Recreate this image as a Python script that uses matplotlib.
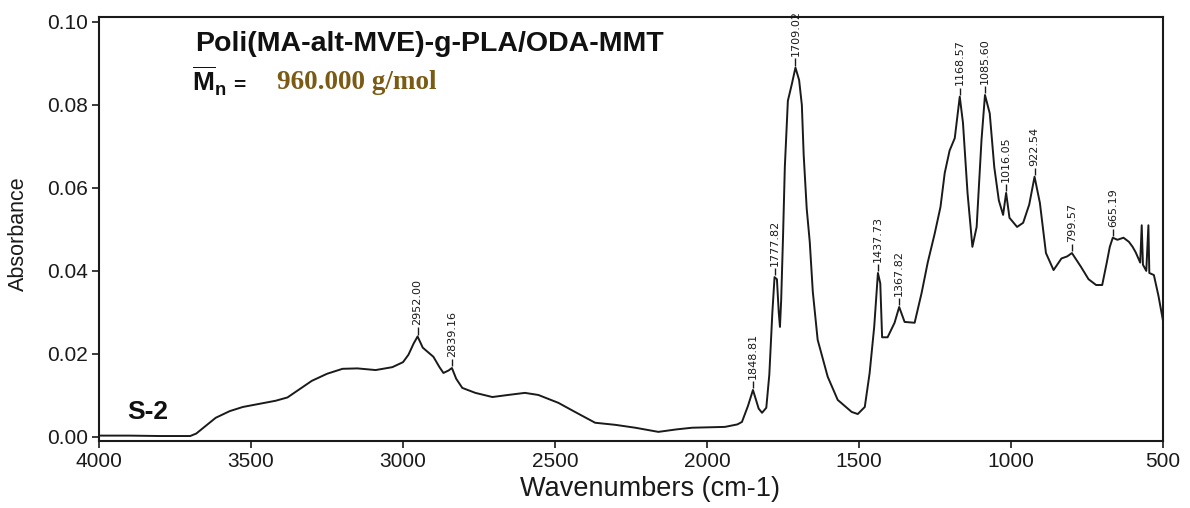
import numpy as np
import matplotlib
matplotlib.use("Agg")
import matplotlib.pyplot as plt

plt.rcParams["font.family"] = ["Liberation Sans", "DejaVu Sans"]
plt.rcParams["mathtext.fontset"] = "custom"
plt.rcParams["mathtext.bf"] = "Liberation Sans:bold"
plt.rcParams["mathtext.rm"] = "Liberation Sans"

# FTIR spectrum (wavenumber in cm-1, absorbance)
wavenumber = [4000, 3900, 3800, 3700, 3680, 3616, 3570, 3527, 3470, 3419,
              3380, 3340, 3300, 3250, 3199, 3150, 3090, 3035, 3000, 2982,
              2965, 2952, 2935, 2900, 2880, 2867, 2850, 2839.16, 2825, 2805,
              2762, 2706, 2654, 2599, 2555, 2489, 2434, 2368, 2302, 2236,
              2160, 2100, 2049, 1990, 1941, 1900, 1885, 1865, 1848.81, 1830,
              1819, 1805, 1795, 1785, 1777.82, 1770, 1764, 1760, 1756, 1750,
              1744, 1734, 1721, 1709.02, 1697, 1688, 1682, 1672, 1662, 1652,
              1636, 1603, 1570, 1524, 1504, 1481, 1465, 1450, 1437.73, 1430,
              1424, 1406, 1383, 1367.82, 1350, 1317, 1294, 1274, 1251, 1232,
              1218, 1202, 1185, 1168.57, 1158, 1143, 1127, 1113, 1097, 1085.60,
              1070, 1055, 1040, 1026, 1016.05, 1005, 980, 960, 940, 922.54,
              905, 885, 860, 834, 815, 799.57, 770, 745, 720, 700,
              685, 675, 665.19, 650, 630, 612, 600, 590, 575, 570,
              566, 555, 548, 545, 530, 515, 505, 500]
absorbance = [0.0003, 0.0003, 0.0002, 0.0002, 0.0008, 0.0046, 0.0062, 0.0072, 0.0080, 0.0087,
              0.0095, 0.0115, 0.0135, 0.0152, 0.0164, 0.0165, 0.0161, 0.0168, 0.0180, 0.0198,
              0.0225, 0.0242, 0.0215, 0.0193, 0.0168, 0.0154, 0.0160, 0.0166, 0.0140, 0.0118,
              0.0106, 0.0096, 0.0101, 0.0106, 0.0101, 0.0082, 0.0060, 0.0034, 0.0029, 0.0022,
              0.0012, 0.0018, 0.0022, 0.0023, 0.0024, 0.0030, 0.0036, 0.0075, 0.0113, 0.0068,
              0.0058, 0.0070, 0.0150, 0.0300, 0.0385, 0.0380, 0.0300, 0.0265, 0.0330, 0.0480,
              0.0650, 0.0810, 0.0850, 0.0890, 0.0860, 0.0800, 0.0680, 0.0550, 0.0470, 0.0350,
              0.0234, 0.0145, 0.0089, 0.0060, 0.0055, 0.0072, 0.0154, 0.0265, 0.0395, 0.0370,
              0.0240, 0.0240, 0.0275, 0.0313, 0.0277, 0.0275, 0.0347, 0.0420, 0.0490, 0.0554,
              0.0636, 0.0690, 0.0720, 0.0820, 0.0757, 0.0588, 0.0458, 0.0506, 0.0716, 0.0824,
              0.0780, 0.0650, 0.0570, 0.0535, 0.0588, 0.0528, 0.0506, 0.0516, 0.0560, 0.0627,
              0.0564, 0.0443, 0.0402, 0.0430, 0.0435, 0.0443, 0.0410, 0.0380, 0.0366, 0.0366,
              0.0420, 0.0458, 0.0480, 0.0475, 0.0480, 0.0470, 0.0458, 0.0445, 0.0420, 0.0510,
              0.0415, 0.0400, 0.0510, 0.0395, 0.0390, 0.0340, 0.0300, 0.0280]

# labelled peaks
peak_wn = [2952.00, 2839.16, 1848.81, 1777.82, 1709.02, 1437.73, 1367.82,
           1168.57, 1085.60, 1016.05, 922.54, 799.57, 665.19]
peak_labels = ["2952.00", "2839.16", "1848.81", "1777.82", "1709.02", "1437.73",
               "1367.82", "1168.57", "1085.60", "1016.05", "922.54", "799.57", "665.19"]

x_ticks = [4000, 3500, 3000, 2500, 2000, 1500, 1000, 500]
y_ticks = [0.00, 0.02, 0.04, 0.06, 0.08, 0.10]

W, H = 1190, 508
fig = plt.figure(figsize=(W / 100, H / 100), dpi=100)
ax = fig.add_axes([99 / W, 1 - 441 / H, (1163 - 99) / W, (441 - 17) / H])

ax.plot(wavenumber, absorbance, color="#1a1a1a", lw=1.4)

# peak annotations
wn_sorted = np.array(wavenumber)[::-1]
ab_sorted = np.array(absorbance)[::-1]
for p, lab in zip(peak_wn, peak_labels):
    a = np.interp(p, wn_sorted, ab_sorted)
    ax.vlines(p, a + 0.0004, a + 0.0022, color="#1a1a1a", lw=1)
    ax.text(p, a + 0.0027, lab, rotation=90, ha="center", va="bottom",
            fontsize=8, family="DejaVu Sans", color="#1a1a1a")

ax.set_xlim(4000, 500)
ax.set_ylim(-0.001, 0.1012)
ax.set_xticks(x_ticks)
ax.set_yticks(y_ticks)
ax.set_yticklabels([f"{v:.2f}" for v in y_ticks])
ax.tick_params(direction="out", length=5, width=1.2, labelsize=15,
               pad=3, colors="#1a1a1a")
for s in ax.spines.values():
    s.set_linewidth(1.5)
    s.set_color("#1a1a1a")

ax.set_xlabel("Wavenumbers (cm-1)", fontsize=19.5, color="#1a1a1a")
ax.set_ylabel("Absorbance", fontsize=15.5, color="#1a1a1a")
ax.xaxis.set_label_coords(0.518, -0.082)
ax.yaxis.set_label_coords(-0.066, 0.49)

# titles inside the plot
fig.text(195 / W, 1 - 51 / H, "Poli(MA-alt-MVE)-g-PLA/ODA-MMT", fontsize=20.5,
         fontweight="bold", va="baseline", color="#111111")
fig.text(192 / W, 1 - 91 / H, r"$\overline{\mathbf{M}}_{\mathbf{n}}$", fontsize=19,
         va="baseline", color="#111111")
fig.text(233 / W, 1 - 91 / H, "=", fontsize=15, fontweight="bold",
         va="baseline", color="#111111")
fig.text(277 / W, 1 - 89 / H, "960.000 g/mol", fontsize=19.5, fontweight="bold",
         family="Liberation Serif", va="baseline", color="#7b5a14")
fig.text(127 / W, 1 - 419 / H, "S-2", fontsize=19, fontweight="bold",
         va="baseline", color="#111111")

fig.savefig("out.png", dpi=100)
